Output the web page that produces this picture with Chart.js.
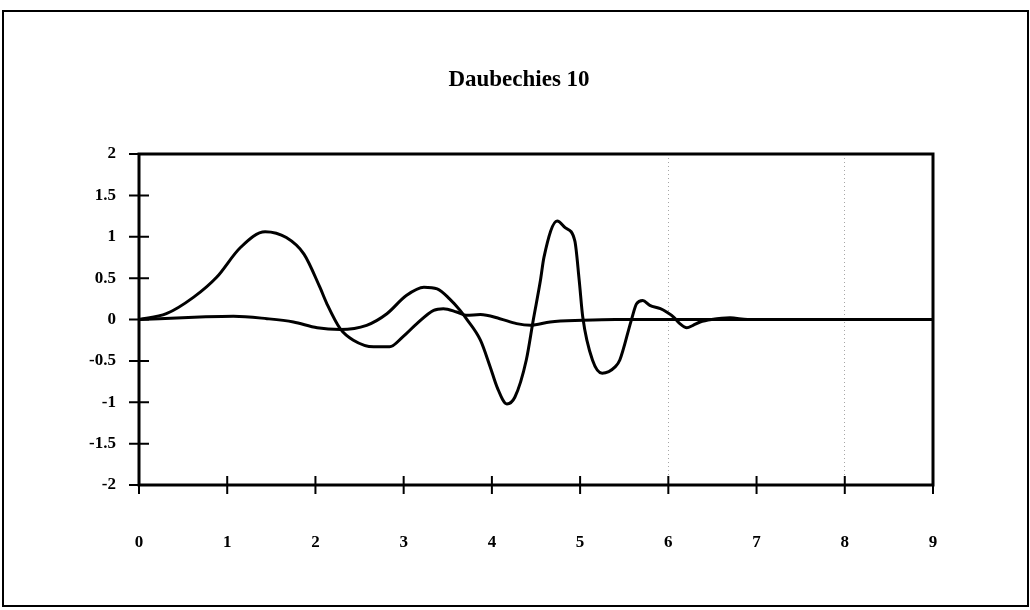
<!DOCTYPE html>
<html>
<head>
<meta charset="utf-8">
<script src="https://cdn.jsdelivr.net/npm/chart.js@4/dist/chart.umd.min.js"></script>
<style>
  html, body { margin: 0; padding: 0; background: #fff; }
  #wrap { position: relative; width: 1030px; height: 610px; }
  #title {
    position: absolute; left: 519px; top: 67px; transform: translateX(-50%);
    font-family: 'Liberation Serif', 'Times New Roman', serif; font-weight: bold;
    font-size: 23px; line-height: 23px; color: #000; white-space: nowrap;
  }
</style>
</head>
<body>
<div id="wrap"><canvas id="c" width="1030" height="610"></canvas><div id="title"></div></div>
<script>
// ---- data ----
const chartTitle = 'Daubechies 10';
const xTickLabels = ['0','1','2','3','4','5','6','7','8','9'];
const yTickLabels = ['-2','-1.5','-1','-0.5','0','0.5','1','1.5','2'];

// scaling function (large first hump)
const phiX = [0, 0.31, 0.62, 0.88, 1.15, 1.43, 1.67, 1.87, 2.05, 2.13, 2.28, 2.43, 2.66, 2.84, 2.99, 3.15, 3.34, 3.45, 3.60, 3.71, 3.87, 4.09, 4.28, 4.44, 4.66, 5.03, 5.4, 6.0, 7.0, 8.0, 9.0];
const phiY = [0, 0.07, 0.27, 0.51, 0.87, 1.06, 0.99, 0.79, 0.39, 0.19, -0.11, -0.25, -0.33, -0.33, -0.21, -0.05, 0.11, 0.13, 0.09, 0.05, 0.06, 0.01, -0.05, -0.07, -0.03, -0.01, 0, 0, 0, 0, 0];

// wavelet (oscillating)
const psiX = [0, 0.69, 1.07, 1.45, 1.75, 2.02, 2.28, 2.58, 2.81, 3.03, 3.23, 3.38, 3.52, 3.64, 3.71, 3.87, 3.98, 4.06, 4.17, 4.26, 4.39, 4.47, 4.55, 4.59, 4.74, 4.83, 4.94, 4.99, 5.03, 5.14, 5.25, 5.40, 5.45, 5.58, 5.64, 5.71, 5.79, 5.91, 5.98, 6.06, 6.13, 6.21, 6.28, 6.36, 6.49, 6.7, 6.9, 7.5, 9.0];
const psiY = [0, 0.03, 0.04, 0.01, -0.03, -0.10, -0.12, -0.07, 0.07, 0.29, 0.39, 0.37, 0.25, 0.11, 0.01, -0.25, -0.57, -0.82, -1.02, -0.94, -0.49, 0, 0.47, 0.75, 1.19, 1.11, 0.95, 0.47, 0.03, -0.49, -0.65, -0.57, -0.49, -0.01, 0.19, 0.23, 0.17, 0.13, 0.09, 0.03, -0.05, -0.10, -0.07, -0.03, 0, 0.02, 0, 0, 0];

const faintGridAt = [6, 8];

document.getElementById('title').textContent = chartTitle;

const toPts = (xs, ys) => xs.map((x, i) => ({ x: x, y: ys[i] }));

const FONT = 'Liberation Serif, Times New Roman, serif';

const framePlugin = {
  id: 'frame',
  afterDraw(chart) {
    const ctx = chart.ctx;
    const a = chart.chartArea;
    const xs = chart.scales.x, ys = chart.scales.y;
    ctx.save();
    ctx.strokeStyle = '#000';
    // outer border
    ctx.lineWidth = 2;
    ctx.strokeRect(3, 11, 1025, 595);
    // plot border
    ctx.lineWidth = 3;
    ctx.strokeRect(a.left, a.top, a.right - a.left, a.bottom - a.top);
    // cross tick marks
    ctx.lineWidth = 2;
    ctx.beginPath();
    xs.ticks.forEach(t => {
      const px = xs.getPixelForValue(t.value);
      ctx.moveTo(px, a.bottom - 9);
      ctx.lineTo(px, a.bottom + 9);
    });
    ys.ticks.forEach(t => {
      const py = ys.getPixelForValue(t.value);
      ctx.moveTo(a.left - 10, py);
      ctx.lineTo(a.left + 10, py);
    });
    ctx.stroke();
    ctx.restore();
  }
};

new Chart(document.getElementById('c'), {
  type: 'scatter',
  data: {
    datasets: [
      { label: 'phi', data: toPts(phiX, phiY), showLine: true, borderColor: '#000', borderWidth: 3, pointRadius: 0, cubicInterpolationMode: 'monotone', fill: false },
      { label: 'psi', data: toPts(psiX, psiY), showLine: true, borderColor: '#000', borderWidth: 3, pointRadius: 0, cubicInterpolationMode: 'monotone', fill: false }
    ]
  },
  options: {
    responsive: false,
    animation: false,
    devicePixelRatio: 1,
    layout: { padding: { left: 0, right: 97, top: 154, bottom: 55 } },
    plugins: {
      legend: { display: false },
      tooltip: { enabled: false },
      title: { display: false }
    },
    scales: {
      x: {
        type: 'linear', min: 0, max: 9,
        afterFit: s => { s.height = 70; },
        ticks: {
          stepSize: 1, padding: 47, color: '#000', maxRotation: 0,
          font: { family: FONT, size: 17, weight: 'bold' },
          callback: (v) => xTickLabels[Math.round(v)]
        },
        grid: {
          drawTicks: false,
          lineWidth: 1,
          color: (c) => (c.tick && faintGridAt.includes(c.tick.value)) ? 'rgba(0,0,0,0.35)' : 'rgba(0,0,0,0)'
        },
        border: { display: false, dash: [1, 3] }
      },
      y: {
        type: 'linear', min: -2, max: 2,
        afterFit: s => { s.width = 139; },
        ticks: {
          stepSize: 0.5, padding: 23, color: '#000',
          font: { family: FONT, size: 17, weight: 'bold' },
          callback: (v) => yTickLabels[Math.round((v + 2) * 2)]
        },
        grid: { display: false, drawTicks: false },
        border: { display: false }
      }
    }
  },
  plugins: [framePlugin]
});
</script>
</body>
</html>
